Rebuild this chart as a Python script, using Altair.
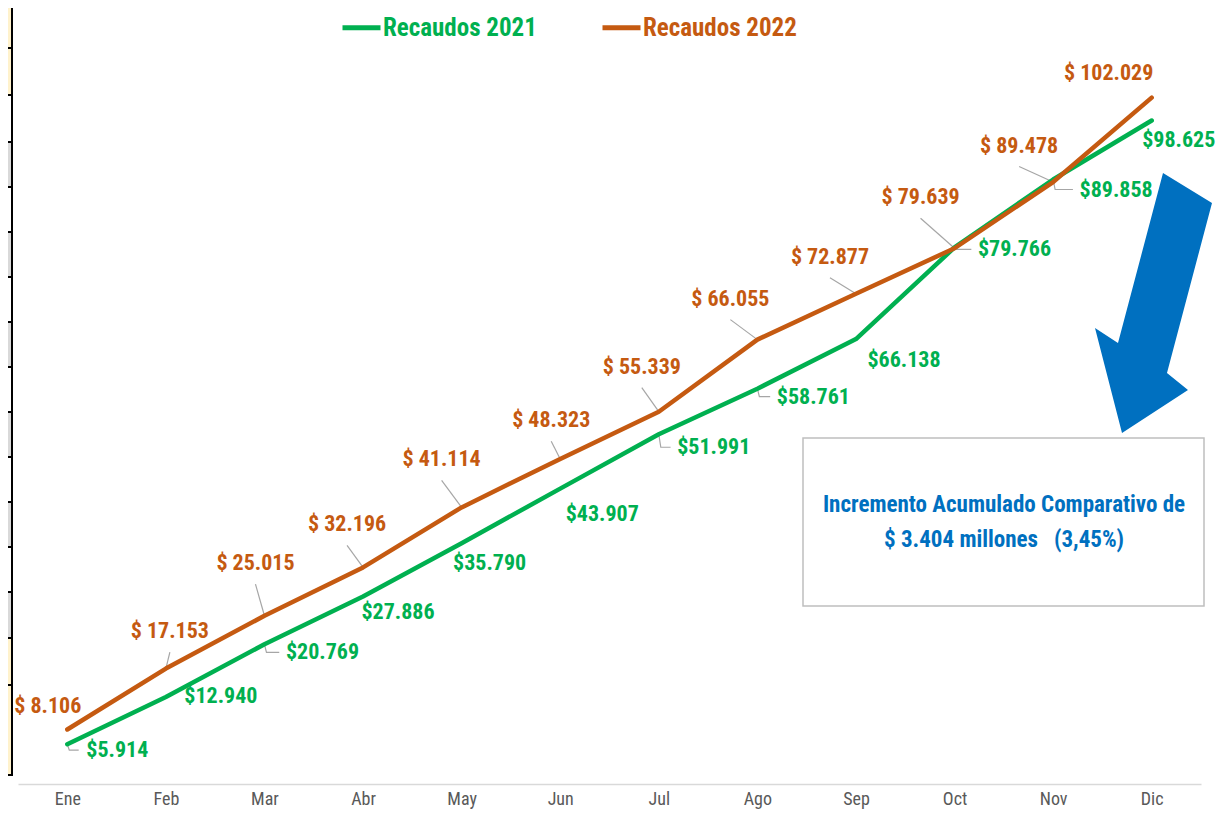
import altair as alt
import pandas as pd

# ---------------- data ----------------
meses = ["Ene", "Feb", "Mar", "Abr", "May", "Jun", "Jul", "Ago", "Sep", "Oct", "Nov", "Dic"]
recaudos_2021 = [5914, 12940, 20769, 27886, 35790, 43907, 51991, 58761, 66138, 79766, 89858, 98625]
recaudos_2022 = [8106, 17153, 25015, 32196, 41114, 48323, 55339, 66055, 72877, 79639, 89478, 102029]
series = ["Recaudos 2021", "Recaudos 2022"]
colores = ["#00b050", "#c55a11"]
nota = ["Incremento Acumulado Comparativo de", "$ 3.404 millones\u00a0\u00a0\u00a0(3,45%)"]

# ---------------- layout (label placement in pixels) ----------------
off_2021 = [(50, 6), (55, -1), (58, 8), (35, 16), (28, 20), (42, 25), (55, 13), (56, 8),
            (48, 21), (60, 2), (63, 10), (27, 19)]
off_2022 = [(-19.5, -23), (4, -37.5), (-9, -52.6), (-16, -43), (-20, -48), (-9, -38.6),
            (-17, -45), (-27, -41), (-26, -37), (-34, -51), (-34, -36.5), (-43, -25)]
lead_2021 = [True, False, True, False, False, False, True, True, False, True, True, False]
lead_2022 = [False, True, True, True, True, True, True, True, True, True, True, False]

NARROW = "Liberation Sans Narrow, Arial Narrow, Roboto Condensed, Liberation Sans, sans-serif"
W, H = 1183, 740
YMAX = 110000
PX = YMAX / H  # data units per pixel (vertical)


def fmt(v, space):
    s = f"{v:,}".replace(",", ".")
    return ("$ " if space else "$") + s


rows, labs, leads = [], [], []
lid = 0
for serie, vals, offs, leadf, sp in [
    (series[0], recaudos_2021, off_2021, lead_2021, False),
    (series[1], recaudos_2022, off_2022, lead_2022, True),
]:
    for m, v, (dx, dy), ld in zip(meses, vals, offs, leadf):
        rows.append({"mes": m, "serie": serie, "valor": v})
        t = fmt(v, sp)
        labs.append({"mes": m, "serie": serie, "valor": v, "texto": t, "dx": dx,
                     "yl": v - dy * PX})
        if ld:
            if sp:
                pts = [(0, 0), (dx, dy + 21)]
            else:
                hw = len(t) * 4.6
                pts = [(0, 0), (2, dy), (dx - hw - 11, dy)]
            for k, (ox, oy) in enumerate(pts):
                leads.append({"id": lid, "k": k, "mes": m, "ox": ox, "yl": v - oy * PX})
            lid += 1

df = pd.DataFrame(rows)
df_lab = pd.DataFrame(labs)
df_lead = pd.DataFrame(leads)


def xenc():
    return alt.X("mes:N", sort=meses, scale=alt.Scale(type="point", padding=0.5),
                 axis=alt.Axis(title=None, labelAngle=0, ticks=False, grid=False,
                               domainColor="#d9d9d9", domainWidth=1.5,
                               labelColor="#595959", labelFontSize=18, labelFont=NARROW,
                               labelFontWeight="normal", labelPadding=6))


def yscale():
    return alt.Scale(domain=[0, YMAX], nice=False, zero=True)


color_scale = alt.Scale(domain=series, range=colores)

lines = alt.Chart(df).mark_line(strokeWidth=4.5, strokeCap="round", strokeJoin="round").encode(
    x=xenc(), y=alt.Y("valor:Q", scale=yscale(), axis=None),
    color=alt.Color("serie:N", scale=color_scale, legend=alt.Legend(
        orient="none", legendX=322, legendY=-38, direction="horizontal", title=None,
        labelFontSize=25, labelFont=NARROW, labelFontWeight="bold",
        labelColor={"expr": "datum.label == 'Recaudos 2021' ? '#00b050' : '#c55a11'"},
        symbolType="stroke", symbolStrokeWidth=5, symbolSize=1444,
        columnPadding=55, labelOffset=0, padding=0, labelLimit=400)),
)

leaders = alt.Chart(df_lead).mark_line(stroke="#a6a6a6", strokeWidth=1.2).encode(
    x=xenc(), y=alt.Y("yl:Q", scale=yscale(), axis=None),
    xOffset=alt.XOffset("ox:Q", scale=None),
    detail="id:N", order="k:Q",
)

labels = alt.Chart(df_lab).mark_text(font=NARROW, fontSize=22, fontWeight="bold",
                                     baseline="middle", align="center").encode(
    x=xenc(), y=alt.Y("yl:Q", scale=yscale(), axis=None),
    xOffset=alt.XOffset("dx:Q", scale=None),
    text="texto:N",
    color=alt.Color("serie:N", scale=color_scale, legend=None),
)

dummy = pd.DataFrame({"a": [0]})

box = alt.Chart(dummy).mark_rect(fill="white", stroke="#bfbfbf", strokeWidth=1.5).encode(
    x=alt.value(785), x2=alt.value(1186), y=alt.value(394), y2=alt.value(562))

box_text = alt.Chart(dummy).mark_text(text=nota, font=NARROW, fontSize=23, fontWeight="bold",
                                      color="#0070c0", align="center", baseline="middle",
                                      lineHeight=35).encode(
    x=alt.value(986), y=alt.value(461))

# blue arrow shape (plot pixel coordinates -> unit symbol path)
arrow_poly = [(1145, 129), (1194, 159), (1149, 329), (1170, 346), (1104, 389), (1077, 284), (1100, 299)]
cx, cy, half = 1135.5, 259, 130
path = "M" + " L".join(f"{(px - cx) / half:.4f},{(py - cy) / half:.4f}" for px, py in arrow_poly) + " Z"
arrow = alt.Chart(dummy).mark_point(shape=path, size=(2 * half) ** 2, filled=True, fill="#0070c0",
                                    strokeWidth=0, opacity=1).encode(
    x=alt.value(cx), y=alt.value(cy))

# spreadsheet fragment at the left edge
edges = [-44, 4, 51, 98, 143, 188, 233, 278, 323, 368, 413, 458, 503, 548, 594, 641, 731]
fills = ["#fff2cc", "#fff2cc", "#ffffff", "#d9d9d9", "#ffffff", "#d9d9d9", "#ffffff", "#d9d9d9",
         "#ffffff", "#d9d9d9", "#ffffff", "#d9d9d9", "#ffffff", "#d9d9d9", "#fff2cc", "#fff2cc"]
strip_df = pd.DataFrame({"y0": edges[:-1], "y1": edges[1:], "c": fills})
strip = alt.Chart(strip_df).mark_rect(stroke="black", strokeWidth=2).encode(
    x=alt.value(-20), x2=alt.value(-6),
    y=alt.Y("y0:Q", scale=None, axis=None), y2="y1:Q",
    fill=alt.Fill("c:N", scale=None),
)

chart = alt.layer(strip, leaders, lines, labels, box, box_text, arrow).properties(
    width=W, height=H,
    autosize=alt.AutoSizeParams(type="none"),
    padding={"left": 10, "top": 36, "right": 16, "bottom": 29},
    background="white",
).configure_view(strokeWidth=0)

chart.save("out.html", embed_options={"renderer": "svg", "actions": False})
